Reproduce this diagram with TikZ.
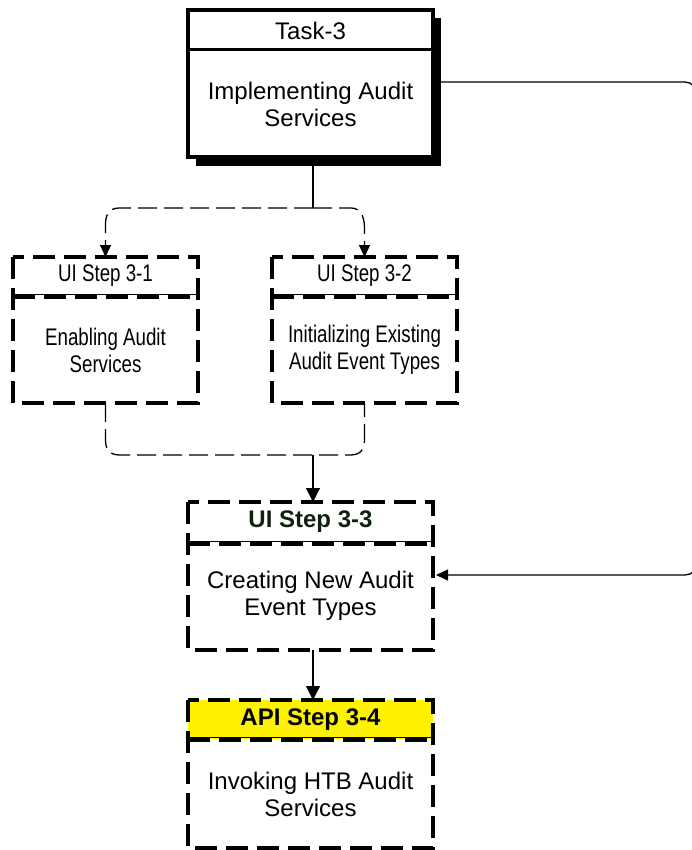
\documentclass[tikz,border=0pt]{standalone}
\usepackage{fontspec}
\setmainfont{Liberation Sans}
\newfontfamily\narrowfont{Liberation Sans}[FakeStretch=0.78]
\usetikzlibrary{arrows.meta}
\begin{document}
\begin{tikzpicture}[x=1pt,y=-1pt,
  boxdash/.style={line width=4pt, dash pattern=on 22pt off 9pt},
  conn/.style={line width=1.3pt},
  dconn/.style={line width=1.3pt, dash pattern=on 19pt off 7pt},
  bigtip/.style={-{Triangle[width=14pt,length=14pt]}},
  smalltip/.style={-{Triangle[width=11pt,length=12pt]}},
  area/.style={inner sep=0pt, outer sep=0pt, draw=none, rectangle},
  body/.style={align=center, font=\fontsize{24}{27}\selectfont, inner sep=0pt},
  nbody/.style={align=center, font=\narrowfont\fontsize{24}{27}\selectfont, inner sep=0pt},
]
\useasboundingbox (0,0) rectangle (691,850);

% ---------- Task-3 ----------
\fill[black] (196,18) rectangle (441,166);
\node[area, fill=white, draw=black, line width=3.5pt, minimum width=245pt, minimum height=147pt] (task) at (310.5,83.5) {};
\draw[line width=3pt] (188,50) -- (433,50);
\node[body] (taskh) at (310.5,31) {Task-3};
\node[body] (taskb) at (310.5,104) {Implementing Audit\\Services};

% ---------- UI Step 3-1 ----------
\node[area, minimum width=185pt, minimum height=146pt] (s31) at (105.5,330) {};
\draw[boxdash] (13,257) rectangle (198,403);
\draw[line width=1.5pt] (13,294.5) -- (198,294.5);
\draw[boxdash] (13,297) -- (198,297);
\node[nbody] (s31h) at (105.5,276) {UI Step 3-1};
\node[nbody] (s31b) at (105.5,350) {Enabling Audit\\Services};

% ---------- UI Step 3-2 ----------
\node[area, minimum width=185pt, minimum height=146pt] (s32) at (364.5,330) {};
\draw[boxdash] (272,257) rectangle (457,403);
\draw[line width=1.5pt] (272,294.5) -- (457,294.5);
\draw[boxdash] (272,297) -- (457,297);
\node[nbody] (s32h) at (364.5,276) {UI Step 3-2};
\node[nbody] (s32b) at (364.5,350) {Initializing Existing\\Audit Event Types};

% ---------- UI Step 3-3 ----------
\node[area, minimum width=245pt, minimum height=148pt] (s33) at (310.5,576) {};
\draw[boxdash] (188,502) rectangle (433,650);
\draw[line width=1.5pt] (188,541.5) -- (433,541.5);
\draw[boxdash] (188,544) -- (433,544);
\node[body, font=\bfseries\fontsize{24}{27}\selectfont, text={rgb,255:red,16;green,32;blue,16}] (s33h) at (310.5,522) {UI Step 3-3};
\node[body] (s33b) at (310.5,596) {Creating New Audit\\Event Types};

% ---------- API Step 3-4 ----------
\fill[yellow] (188,700) rectangle (433,739);
\node[area, minimum width=245pt, minimum height=148pt] (s34) at (310.5,774) {};
\draw[boxdash] (188,700) rectangle (433,848);
\draw[line width=1.5pt] (188,737.5) -- (433,737.5);
\draw[boxdash] (188,740) -- (433,740);
\node[body, font=\bfseries\fontsize{24}{27}\selectfont] (s34h) at (310.5,720) {API Step 3-4};
\node[body] (s34b) at (310.5,794) {Invoking HTB Audit\\Services};

% ---------- connectors ----------
\coordinate (fork) at (313,208);
\coordinate (merge) at (313,455);
\coordinate (loopT) at (697,82);
\coordinate (loopB) at (697,575);

\draw[conn] (task.south -| fork) -- (fork);
\draw[dconn, smalltip] (fork) -- (119,208) .. controls (110,208) and (105.5,214) .. (105.5,224) -- (s31.north);
\draw[dconn, smalltip] (fork) -- (351,208) .. controls (360,208) and (364.5,216) .. (364.5,228) -- (s32.north);

\draw[dconn] (s31.south) -- (105.5,440) .. controls (105.5,450) and (110,455) .. (120,455) -- (350,455) .. controls (360,455) and (364.5,450) .. (364.5,440) -- (s32.south);
\draw[conn, bigtip] (merge) -- (s33.north -| merge);

\draw[conn, bigtip] (s33.south -| merge) -- (s34.north -| merge);

\draw[conn, smalltip] (task.east |- loopT) -- (685,82) .. controls (692,82) and (697,88) .. (697,96) -- (697,561) .. controls (697,570) and (692,575) .. (685,575) -- ([xshift=3pt]s33.east |- loopB);
\end{tikzpicture}
\end{document}
